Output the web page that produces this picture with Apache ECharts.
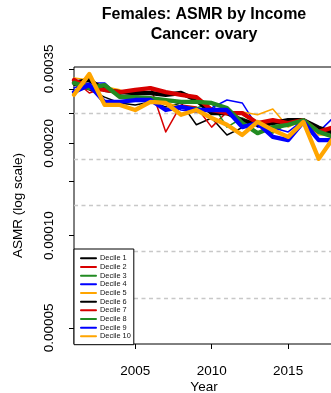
<!DOCTYPE html>
<html>
<head>
<meta charset="utf-8">
<script src="https://cdn.jsdelivr.net/npm/echarts@6/dist/echarts.min.js"></script>
<style>
  html, body { margin: 0; padding: 0; background: #fff; }
  #chart { width: 331px; height: 393px; }
</style>
</head>
<body>
<div id="chart"></div>
<script>
// Ovarian cancer age-standardised mortality rates among females, by income decile
const years = [2001, 2002, 2003, 2004, 2005, 2006, 2007, 2008, 2009, 2010, 2011, 2012, 2013, 2014, 2015, 2016, 2017, 2018];

const decile1  = [0.000310, 0.000299, 0.000283, 0.000271, 0.000267, 0.000273, 0.000263, 0.000271, 0.000230, 0.000242, 0.000213, 0.000225, 0.000233, 0.000226, 0.000233, 0.000230, 0.000226, 0.000208];
const decile2  = [0.000322, 0.000292, 0.000303, 0.000294, 0.000294, 0.000306, 0.000218, 0.000267, 0.000263, 0.000226, 0.000253, 0.000238, 0.000230, 0.000221, 0.000230, 0.000235, 0.000218, 0.000226];
const decile3  = [0.000317, 0.000310, 0.000306, 0.000288, 0.000281, 0.000277, 0.000269, 0.000265, 0.000261, 0.000271, 0.000226, 0.000242, 0.000230, 0.000216, 0.000233, 0.000235, 0.000218, 0.000221];
const decile4  = [0.000303, 0.000315, 0.000315, 0.000283, 0.000283, 0.000277, 0.000269, 0.000257, 0.000253, 0.000261, 0.000277, 0.000271, 0.000226, 0.000225, 0.000218, 0.000238, 0.000218, 0.000244];
const decile5  = [0.000327, 0.000322, 0.000306, 0.000299, 0.000288, 0.000277, 0.000273, 0.000261, 0.000257, 0.000253, 0.000248, 0.000253, 0.000248, 0.000259, 0.000226, 0.000238, 0.000213, 0.000213];
const decile6  = [0.000315, 0.000322, 0.000299, 0.000294, 0.000292, 0.000292, 0.000288, 0.000292, 0.000277, 0.000251, 0.000251, 0.000238, 0.000230, 0.000233, 0.000238, 0.000238, 0.000225, 0.000216];
const decile7  = [0.000322, 0.000303, 0.000299, 0.000294, 0.000299, 0.000303, 0.000294, 0.000288, 0.000283, 0.000257, 0.000251, 0.000251, 0.000233, 0.000238, 0.000233, 0.000238, 0.000218, 0.000226];
const decile8  = [0.000315, 0.000303, 0.000310, 0.000283, 0.000283, 0.000281, 0.000277, 0.000273, 0.000273, 0.000271, 0.000261, 0.000233, 0.000216, 0.000226, 0.000230, 0.000238, 0.000218, 0.000210];
const decile9  = [0.000294, 0.000310, 0.000273, 0.000273, 0.000277, 0.000277, 0.000257, 0.000263, 0.000257, 0.000257, 0.000257, 0.000226, 0.000233, 0.000210, 0.000205, 0.000235, 0.000205, 0.000205];
const decile10 = [0.000288, 0.000337, 0.000267, 0.000267, 0.000257, 0.000273, 0.000271, 0.000248, 0.000257, 0.000242, 0.000230, 0.000213, 0.000235, 0.000221, 0.000210, 0.000235, 0.000178, 0.000210];

const seriesNames = ['Decile 1', 'Decile 2', 'Decile 3', 'Decile 4', 'Decile 5',
                     'Decile 6', 'Decile 7', 'Decile 8', 'Decile 9', 'Decile 10'];
const seriesValues = [decile1, decile2, decile3, decile4, decile5,
                      decile6, decile7, decile8, decile9, decile10];

// axis ticks and labels
const xTickValues = [2005, 2010, 2015];
const yTickValues = [0.00005, 0.00010, 0.00015, 0.00020, 0.00025, 0.00030, 0.00035];
const yLabelValues = [0.00005, 0.00010, 0.00020, 0.00035];

const palette = ['#000000', '#d80000', '#228b22', '#0000ff', '#ffa500'];
const FONT = '"Liberation Sans", Arial, Helvetica, sans-serif';

const series = seriesValues.map((vals, i) => ({
  name: seriesNames[i],
  type: 'line',
  data: years.map((y, k) => [y, vals[k]]),
  symbol: 'none',
  xAxisIndex: 0,
  yAxisIndex: 0,
  lineStyle: {
    color: palette[i % 5],
    width: i < 5 ? 1.5 : 4.3,
    cap: 'round',
    join: 'round'
  },
  itemStyle: { color: palette[i % 5] },
  emphasis: { disabled: true },
  z: 2
}));

const chart = echarts.init(document.getElementById('chart'), null, { renderer: 'canvas' });

chart.setOption({
  animation: false,
  backgroundColor: '#ffffff',
  title: {
    text: 'Females: ASMR by Income\nCancer: ovary',
    left: 204,
    top: 5,
    padding: 0,
    textAlign: 'center',
    textStyle: {
      fontFamily: FONT,
      fontWeight: 'bold',
      fontSize: 16,
      lineHeight: 20,
      color: '#000'
    }
  },
  grid: {
    left: 74,
    top: 67,
    width: 260,
    height: 277,
    outerBoundsMode: 'none',
    containLabel: false,
    show: true,
    borderColor: '#000',
    borderWidth: 1,
    backgroundColor: 'transparent'
  },
  legend: {
    data: seriesNames,
    orient: 'vertical',
    left: 74,
    top: 249,
    padding: [5, 3, 4, 6],
    itemWidth: 15,
    itemHeight: 6,
    itemGap: 0,
    backgroundColor: '#fff',
    borderColor: '#000',
    borderWidth: 1,
    borderRadius: 0,
    selectedMode: false,
    itemStyle: { opacity: 0 },
    textStyle: {
      fontFamily: FONT,
      fontSize: 7.4,
      lineHeight: 8.67,
      color: '#111',
      padding: [0, 0, 0, -1]
    }
  },
  xAxis: {
    type: 'value',
    min: 2001,
    max: 2018,
    name: 'Year',
    nameLocation: 'middle',
    nameGap: 36,
    nameMoveOverlap: false,
    nameTextStyle: { fontFamily: FONT, fontSize: 13.5, color: '#000', lineHeight: 14 },
    axisLine: { show: false },
    splitLine: { show: false },
    axisTick: {
      show: true,
      length: 5,
      inside: false,
      customValues: xTickValues,
      lineStyle: { color: '#000', width: 1 }
    },
    axisLabel: {
      customValues: xTickValues,
      margin: 20,
      fontFamily: FONT,
      fontSize: 13.5,
      color: '#000',
      formatter: v => String(v)
    }
  },
  yAxis: [
    {
      type: 'log',
      logBase: 10,
      min: 0.0000443,
      max: 0.000355,
      name: 'ASMR (log scale)',
      nameLocation: 'middle',
      nameGap: 49,
      nameMoveOverlap: false,
      nameTextStyle: { fontFamily: FONT, fontSize: 13.5, color: '#000' },
      axisLine: { show: false },
      splitLine: { show: false },
      minorTick: { show: false },
      axisTick: {
        show: true,
        length: 5,
        inside: false,
        customValues: yTickValues,
        lineStyle: { color: '#000', width: 1 }
      },
      axisLabel: {
        customValues: yLabelValues,
        rotate: 90,
        margin: 18,
        fontFamily: FONT,
        fontSize: 13.5,
        color: '#000',
        formatter: v => Number(v).toFixed(5)
      }
    },
    {
      // dashed reference grid: six equal steps across the log range
      type: 'value',
      min: 0,
      max: 6,
      interval: 1,
      axisLine: { show: false },
      axisTick: { show: false },
      axisLabel: { show: false },
      splitLine: {
        show: true,
        showMinLine: false,
        showMaxLine: false,
        lineStyle: { color: '#c8c8c8', width: 1.3, type: [4, 3.5] }
      }
    }
  ],
  series: series
});
</script>
</body>
</html>
